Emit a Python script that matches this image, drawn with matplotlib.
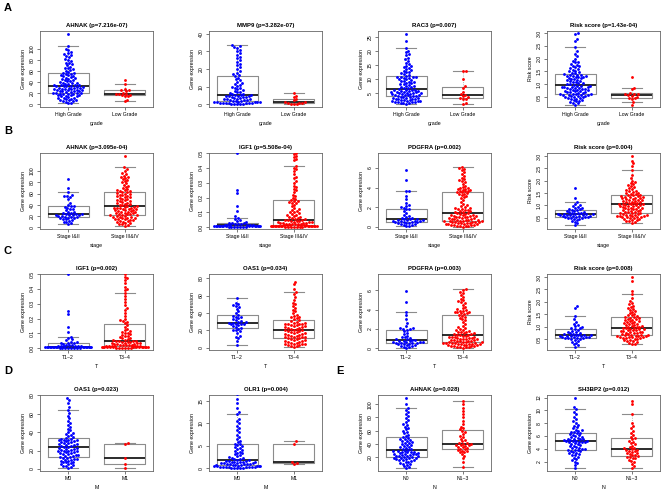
import numpy as np
import matplotlib
matplotlib.use('Agg')
import matplotlib.pyplot as plt

plt.rcParams['font.family'] = ['Liberation Sans', 'DejaVu Sans']

W, H = 669, 490

### values (one list per group)
# A: grade
ahnak_high_grade = [2,3,4,5,6,7,8,8,9,10,11,12,12,13,14,15,15,16,16,17,18,18,19,19,20,20,21,21,22,22,
                    23,23,24,24,25,25,26,26,27,27,28,28,29,29,30,30,31,31,32,32,33,33,34,34,35,35,36,37,
                    38,38,39,40,41,42,43,44,45,46,47,48,49,50,51,52,53,54,55,56,57,58,60,62,63,65,66,68,
                    70,72,74,75,78,80,82,85,87,88,90,92,95,98,100,105,127]
ahnak_low_grade = [5,8,14,15,16,17,18,18,19,21,24,25,26,28,37,43]
mmp9_high_grade = [0.1,0.2,0.3,0.3,0.4,0.5,0.5,0.6,0.7,0.8,0.9,1.0,1.1,1.2,1.3,1.4,1.5,1.6,1.8,1.9,
                   2.0,2.2,2.4,2.6,2.8,3.0,3.1,3.3,3.5,3.7,3.9,4.1,4.3,4.5,4.7,4.9,5.0,5.2,5.3,5.4,
                   5.7,6.0,6.4,6.8,7.2,7.6,8.0,8.5,9.0,9.5,10.0,10.5,11.0,11.5,12.0,12.8,13.5,14.2,15.0,15.8,
                   16.5,17,18,19,20,21,22,23,24,25,26,27,28,29,30,31,32,32.5,33,33.5]
mmp9_low_grade = [0.1,0.2,0.3,0.5,0.7,1.0,1.2,1.5,2.2,3.2,4.0,5.0,6.3]
rac3_high_grade = [1.2,1.4,1.5,1.6,1.7,1.8,1.9,2.0,2.1,2.2,2.3,2.4,2.5,2.6,2.7,2.8,2.9,3.0,3.1,3.2,3.3,3.4,3.5,3.6,3.7,
                   3.9,4.0,4.1,4.2,4.3,4.4,4.5,4.6,4.7,4.8,4.9,5.0,5.1,5.2,5.3,5.4,5.5,5.6,5.7,5.8,5.9,6.0,6.1,6.2,6.3,
                   6.5,6.7,6.9,7.1,7.3,7.5,7.7,7.9,8.1,8.3,8.5,8.7,8.9,9.1,9.3,9.5,9.7,9.9,10.1,10.3,10.5,10.6,10.7,10.8,10.9,
                   11.2,11.5,11.8,12.1,12.4,12.7,13.0,13.3,13.6,13.9,14.2,14.5,14.8,15.2,15.8,16.5,17.0,17.5,18.5,19.0,
                   19.5,20.0,21.0,23.5,26.0]
rac3_low_grade = [1.2,1.5,2.8,3.0,3.3,3.6,4.0,4.5,4.8,5.5,7.0,7.5,10.0,12.8,13.0]
risk_high_grade = [0.20,0.25,0.28,0.30,0.33,0.35,0.37,0.40,0.42,0.44,0.46,0.48,0.50,0.51,0.52,0.53,0.54,0.55,0.56,0.57,
                   0.58,0.59,0.60,0.61,0.62,0.63,0.65,0.66,0.68,0.69,0.70,0.72,0.73,0.75,0.76,0.78,0.79,0.80,0.82,0.83,
                   0.85,0.86,0.87,0.88,0.89,0.90,0.91,0.92,0.93,0.95,0.97,0.99,1.01,1.03,1.05,1.07,1.09,1.11,1.13,1.15,
                   1.17,1.19,1.21,1.23,1.25,1.27,1.29,1.30,1.32,1.33,1.34,1.35,1.36,1.38,1.40,1.42,1.45,1.48,1.50,1.53,
                   1.56,1.60,1.63,1.66,1.70,1.73,1.76,1.80,1.85,1.88,1.92,2.00,2.10,2.20,2.30,2.45,2.70,2.78,2.95,3.00]
risk_low_grade = [0.20,0.30,0.42,0.45,0.48,0.52,0.55,0.58,0.60,0.61,0.63,0.65,0.80,0.85,1.30]

# B: stage
ahnak_stage12 = [5,7,9,10,12,13,14,15,16,16,17,18,18,19,20,20,21,21,22,22,23,23,24,25,26,27,28,30,32,33,
                 34,36,37,38,40,44,50,54,55,56,58,62,70,85]
ahnak_stage34 = [3,4,5,6,7,8,9,10,11,12,13,13,14,15,15,16,17,17,18,19,19,20,20,21,21,
                 22,23,23,24,25,25,26,27,27,28,29,29,30,31,31,32,32,33,34,34,35,35,36,36,37,
                 38,39,40,41,42,43,44,45,46,47,48,49,50,51,52,53,54,55,56,57,58,59,60,61,62,
                 63,64,65,66,67,68,70,72,74,76,78,80,82,84,86,88,89,90,92,94,96,100,104,107,127]
igf1_stage12 = [0.001,0.002,0.002,0.003,0.003,0.004,0.004,0.005,0.005,0.005,0.006,0.006,0.007,0.007,0.008,
                0.008,0.009,0.009,0.010,0.010,0.011,0.011,0.012,0.013,0.014,0.015,0.016,0.018,0.020,0.022,
                0.024,0.026,0.028,0.030,0.035,0.040,0.048,0.055,0.065,0.075,0.11,0.14,0.23,0.25,0.50]
igf1_stage34 = [0.001,0.002,0.002,0.003,0.003,0.004,0.004,0.005,0.005,0.006,0.006,0.007,0.007,0.008,0.008,
                0.008,0.009,0.009,0.010,0.010,0.010,0.011,0.011,0.011,0.012,
                0.013,0.014,0.015,0.016,0.017,0.018,0.019,0.020,0.021,0.022,0.024,0.025,0.027,0.028,0.030,
                0.031,0.033,0.035,0.036,0.038,0.040,0.042,0.044,0.046,0.048,
                0.050,0.053,0.056,0.060,0.064,0.068,0.072,0.076,0.080,0.085,0.090,0.095,0.100,0.105,0.110,
                0.115,0.120,0.130,0.140,0.150,0.160,0.165,0.170,0.175,0.180,
                0.185,0.190,0.200,0.210,0.220,0.240,0.250,0.260,0.270,0.280,0.300,0.310,0.330,0.340,0.360,
                0.380,0.390,0.400,0.410,0.450,0.460,0.470,0.480,0.490,0.500]
pdgfra_stage12 = [0.10,0.15,0.20,0.25,0.30,0.35,0.40,0.42,0.45,0.48,0.50,0.52,0.55,0.58,0.60,0.62,0.65,0.68,
                  0.70,0.75,0.78,0.80,0.85,0.90,0.95,1.00,1.10,1.20,1.40,1.60,1.80,1.85,1.90,2.00,2.10,2.20,
                  2.40,2.80,3.10,3.60,3.70,4.80,5.80]
pdgfra_stage34 = [0.05,0.08,0.10,0.12,0.15,0.18,0.20,0.22,0.25,0.28,0.30,0.32,0.35,0.37,0.40,0.42,0.44,0.46,
                  0.48,0.50,0.52,0.54,0.56,0.58,0.60,
                  0.62,0.65,0.68,0.70,0.73,0.76,0.79,0.82,0.85,0.88,0.91,0.94,0.97,1.00,1.03,1.06,1.09,1.12,
                  1.15,1.18,1.22,1.26,1.30,1.35,1.40,
                  1.45,1.50,1.55,1.60,1.65,1.70,1.75,1.80,1.85,1.90,1.95,2.00,2.10,2.20,2.30,2.50,2.70,2.90,
                  3.00,3.10,3.20,3.30,3.35,3.40,3.50,
                  3.55,3.60,3.65,3.70,3.75,3.80,3.85,3.90,3.95,4.00,4.10,4.20,4.40,4.60,4.70,4.80,4.90,5.00,
                  5.20,5.40,5.60,5.80,5.90,6.00,6.10]
risk_stage12 = [0.20,0.28,0.33,0.38,0.42,0.45,0.47,0.49,0.50,0.51,0.52,0.53,0.54,0.55,0.56,0.57,0.58,0.59,
                0.60,0.61,0.62,0.63,0.64,0.65,0.65,0.66,0.67,0.68,0.69,0.70,0.72,0.74,0.76,0.78,0.80,0.82,
                0.84,0.86,0.88,0.90,0.93,0.96,1.00,1.05,1.15,1.30,1.70]
risk_stage34 = [0.30,0.33,0.36,0.38,0.40,0.42,0.44,0.46,0.48,0.50,0.52,0.53,0.54,0.55,0.56,0.57,0.58,0.59,
                0.60,0.61,0.62,0.63,0.64,0.66,0.68,
                0.69,0.70,0.72,0.73,0.75,0.76,0.78,0.80,0.82,0.84,0.85,0.87,0.88,0.90,0.91,0.93,0.94,0.96,
                0.97,0.99,1.00,1.01,1.02,1.04,1.05,
                1.06,1.08,1.09,1.10,1.12,1.13,1.15,1.16,1.18,1.20,1.21,1.23,1.24,1.26,1.27,1.29,1.30,1.32,
                1.33,1.35,1.36,1.38,1.39,1.41,1.42,
                1.44,1.46,1.48,1.50,1.52,1.55,1.58,1.60,1.63,1.66,1.70,1.74,1.78,1.82,1.86,1.90,1.95,2.00,
                2.10,2.25,2.45,2.60,2.70,2.80,3.00]

# C: T
igf1_t12 = [0.001,0.002,0.002,0.003,0.003,0.004,0.004,0.004,0.005,0.005,0.005,0.006,0.006,0.007,0.007,0.008,
            0.008,0.009,0.009,0.010,0.010,0.010,0.011,0.011,0.012,0.013,0.014,0.015,0.016,0.018,0.020,0.022,
            0.025,0.028,0.032,0.035,0.038,0.040,0.045,0.055,0.060,0.070,0.078,0.110,0.140,0.230,0.250,0.500]
igf1_t34 = [0.001,0.002,0.003,0.003,0.004,0.004,0.005,0.005,0.006,0.006,0.007,0.007,0.008,0.008,0.009,0.009,
            0.010,0.010,0.011,0.011,0.012,0.012,0.013,0.014,0.015,
            0.016,0.017,0.018,0.019,0.020,0.022,0.023,0.025,0.026,0.028,0.030,0.032,0.034,0.036,0.038,0.040,
            0.042,0.044,0.046,0.048,0.050,0.052,
            0.055,0.058,0.062,0.066,0.070,0.075,0.080,0.085,0.090,0.095,0.100,0.105,0.110,0.115,0.120,0.130,
            0.140,0.155,0.170,0.180,0.185,
            0.190,0.200,0.220,0.240,0.260,0.270,0.290,0.310,0.330,0.350,0.370,0.390,0.400,0.410,0.440,0.460,
            0.470,0.480,0.500]
oas1_t12 = [3,8,11,12,14,17,19,20,21,22,23,24,25,26,27,27,28,28,29,29,30,30,31,32,33,34,35,36,37,38,
            40,42,45,47,48,49,50,52,57]
oas1_t34 = [1,2,2,3,3,4,4,5,5,6,6,7,7,8,8,9,9,10,10,
            11,11,12,12,13,13,14,14,15,15,16,16,17,17,18,18,19,19,20,20,21,
            22,22,23,23,24,24,25,25,26,26,27,27,28,28,29,29,30,31,32,33,
            34,35,36,37,38,40,42,44,46,48,50,52,55,58,62,64,67,73,76]
pdgfra_t12 = [0.05,0.10,0.15,0.20,0.25,0.30,0.35,0.40,0.42,0.45,0.48,0.50,0.52,0.55,0.58,0.60,0.63,0.66,
              0.70,0.74,0.78,0.82,0.86,0.90,0.95,1.00,1.10,1.20,1.30,1.45,1.60,1.75,1.90,1.95,2.00,2.05,
              2.10,2.30,2.60,3.00,3.40,3.80,4.80,5.90]
pdgfra_t34 = [0.05,0.07,0.10,0.12,0.14,0.17,0.20,0.23,0.26,0.29,0.31,0.34,0.36,0.39,0.41,0.43,0.45,0.47,
              0.49,0.51,0.53,0.55,0.57,0.59,0.61,
              0.63,0.66,0.69,0.72,0.75,0.78,0.81,0.84,0.87,0.90,0.93,0.96,0.99,1.02,1.05,1.08,1.11,1.14,
              1.17,1.20,1.24,1.28,1.32,1.36,1.40,
              1.44,1.48,1.52,1.57,1.62,1.67,1.72,1.78,1.84,1.90,1.96,2.05,2.15,2.30,2.50,2.70,2.90,3.05,
              3.15,3.25,3.35,3.45,3.55,3.60,3.65,
              3.70,3.75,3.80,3.85,3.90,3.95,4.05,4.15,4.30,4.50,4.65,4.75,4.85,4.95,5.10,5.30,5.50,5.70,
              5.85,6.00,6.10]
risk_t12 = [0.20,0.25,0.30,0.35,0.40,0.44,0.47,0.50,0.52,0.53,0.54,0.55,0.56,0.57,0.58,0.59,0.60,0.61,
            0.62,0.63,0.64,0.65,0.66,0.67,0.68,0.70,0.72,0.74,0.76,0.78,0.80,0.83,0.86,0.90,0.93,0.95,
            0.98,1.02,1.08,1.12,1.20,1.30,1.42,1.75,1.85]
risk_t34 = [0.30,0.32,0.35,0.38,0.41,0.44,0.46,0.48,0.50,0.52,0.54,0.55,0.56,0.57,0.58,0.59,0.60,0.61,
            0.62,0.63,0.64,0.65,0.66,0.67,0.68,
            0.70,0.71,0.73,0.74,0.76,0.77,0.79,0.80,0.82,0.83,0.85,0.86,0.87,0.89,0.90,0.92,0.93,0.95,
            0.96,0.98,0.99,1.00,
            1.02,1.04,1.06,1.08,1.10,1.12,1.14,1.16,1.18,1.20,1.22,1.24,1.26,1.28,1.30,1.32,1.34,1.36,
            1.38,1.40,1.42,
            1.45,1.48,1.52,1.56,1.60,1.64,1.68,1.72,1.76,1.80,1.85,1.90,1.95,2.05,2.15,2.30,2.45,2.85,3.00]

# D: M
oas1_m0 = [1,2,3,3,4,5,5,6,7,7,8,9,9,10,10,11,11,12,12,13,
           13,14,14,15,15,16,16,17,17,18,18,19,19,20,20,21,21,22,22,23,23,24,24,
           25,25,26,26,27,27,28,28,29,29,30,30,31,31,32,32,33,33,34,35,36,
           37,38,39,40,42,44,46,48,50,52,55,58,61,64,67,72,75,77]
oas1_m1 = [1,5,12,27,28]
olr1_m0 = [0.0,0.05,0.1,0.1,0.15,0.2,0.2,0.25,0.3,0.3,0.35,0.4,0.4,0.45,0.5,0.5,0.55,0.6,0.6,0.65,
           0.7,0.75,0.8,0.85,0.9,0.95,1.0,1.05,1.1,1.15,1.2,1.25,1.3,1.35,1.4,1.45,1.5,1.55,1.6,1.7,
           1.8,1.9,2.0,2.1,2.2,2.3,2.5,2.7,2.9,3.1,3.3,3.5,3.7,3.9,4.1,4.3,4.5,4.7,4.9,5.1,5.3,5.5,
           5.8,6.1,6.5,7.0,7.5,8.0,8.5,9.0,9.5,10.0,10.5,11.0,12.0,12.5,13.5,14.5,15.5,16.5,17.0]
olr1_m1 = [1.0,1.2,1.5,5.5,6.0]

# E: N
ahnak_n0 = [3,5,6,8,9,10,11,12,13,14,15,15,16,17,17,18,18,19,19,20,
            20,21,21,22,22,23,23,24,24,25,25,26,26,27,27,28,28,29,29,30,
            31,32,33,34,35,36,37,38,39,40,41,42,43,44,45,46,47,48,49,50,
            52,54,56,58,60,62,64,66,68,70,73,76,79,82,85,88,92,95,100,110]
ahnak_n13 = [5,12,18,22,25,27,28,29,30,31,32,33,34,35,36,37,38,38,39,40,40,41,42,44,46,48,50,52,
             55,58,60,62,64,66,70,75,80,85,90,95,100,105]
sh3bp2_n0 = [1.0,1.5,1.8,2.0,2.2,2.4,2.6,2.8,3.0,3.1,3.2,3.3,3.4,3.5,3.6,3.7,3.8,3.85,3.9,3.95,
             4.0,4.1,4.2,4.3,4.4,4.5,4.6,4.7,4.8,4.9,5.0,5.0,5.1,5.1,5.2,5.2,5.3,5.3,5.4,5.4,
             5.5,5.5,5.6,5.6,5.7,5.8,5.9,6.0,6.1,6.2,6.3,6.4,6.5,6.6,6.7,6.8,6.9,7.0,7.2,7.4,
             7.6,7.8,8.0,8.3,8.6,9.0,9.4,9.8,10.2,10.6,12.0]
sh3bp2_n13 = [1.0,1.3,1.6,1.9,2.1,2.3,2.5,2.6,2.7,2.8,2.9,3.0,3.1,3.2,3.3,3.4,3.5,3.6,3.7,3.8,3.9,4.0,
              4.1,4.2,4.3,4.5,4.7,4.9,5.1,5.3,5.5,5.7,5.9,6.1,6.4,6.8,7.2,7.5,8.0,9.5,11.0,11.5]

grade_labels = ['High Grade', 'Low Grade']
stage_labels = ['Stage I&II', 'Stage III&IV']
t_labels = ['T1~2', 'T3~4']
m_labels = ['M0', 'M1']
n_labels = ['N0', 'N1~3']

GE = 'Gene expression'
RS = 'Risk score'
# row, col, title, ylabel, xlabel, group labels, groups, ylim, yticks, tick format
panels = [
    (0, 0, 'AHNAK (p=7.216e-07)', GE, 'grade', grade_labels, [ahnak_high_grade, ahnak_low_grade], (-5, 132), [0, 20, 40, 60, 80, 100], '%d'),
    (0, 1, 'MMP9 (p=3.282e-07)', GE, 'grade', grade_labels, [mmp9_high_grade, mmp9_low_grade], (-1.5, 41.5), [0, 10, 20, 30, 40], '%d'),
    (0, 2, 'RAC3 (p=0.007)', GE, 'grade', grade_labels, [rac3_high_grade, rac3_low_grade], (0.1, 27.1), [5, 10, 15, 20, 25], '%d'),
    (0, 3, 'Risk score (p=1.43e-04)', RS, 'grade', grade_labels, [risk_high_grade, risk_low_grade], (0.11, 3.08), [0.5, 1.0, 1.5, 2.0, 2.5, 3.0], '%.1f'),
    (1, 0, 'AHNAK (p=3.095e-04)', GE, 'stage', stage_labels, [ahnak_stage12, ahnak_stage34], (-3, 132), [0, 20, 40, 60, 80, 100], '%d'),
    (1, 1, 'IGF1 (p=5.508e-04)', GE, 'stage', stage_labels, [igf1_stage12, igf1_stage34], (-0.012, 0.5), [0.0, 0.1, 0.2, 0.3, 0.4, 0.5], '%.1f'),
    (1, 2, 'PDGFRA (p=0.002)', GE, 'stage', stage_labels, [pdgfra_stage12, pdgfra_stage34], (-0.2, 7.5), [0, 2, 4, 6], '%d'),
    (1, 3, 'Risk score (p=0.004)', RS, 'stage', stage_labels, [risk_stage12, risk_stage34], (0.05, 3.12), [0.5, 1.0, 1.5, 2.0, 2.5, 3.0], '%.1f'),
    (2, 0, 'IGF1 (p=0.002)', GE, 'T', t_labels, [igf1_t12, igf1_t34], (-0.012, 0.5), [0.0, 0.1, 0.2, 0.3, 0.4, 0.5], '%.1f'),
    (2, 1, 'OAS1 (p=0.034)', GE, 'T', t_labels, [oas1_t12, oas1_t34], (-2.3, 84.6), [0, 20, 40, 60, 80], '%d'),
    (2, 2, 'PDGFRA (p=0.003)', GE, 'T', t_labels, [pdgfra_t12, pdgfra_t34], (-0.2, 7.7), [0, 2, 4, 6], '%d'),
    (2, 3, 'Risk score (p=0.008)', RS, 'T', t_labels, [risk_t12, risk_t34], (0.06, 3.12), [0.5, 1.0, 1.5, 2.0, 2.5, 3.0], '%.1f'),
    (3, 0, 'OAS1 (p=0.023)', GE, 'M', m_labels, [oas1_m0, oas1_m1], (-2.3, 80.5), [0, 20, 40, 60, 80], '%d'),
    (3, 1, 'OLR1 (p=0.004)', GE, 'M', m_labels, [olr1_m0, olr1_m1], (-0.6, 16.3), [0, 5, 10, 15], '%d'),
    (3, 2, 'AHNAK (p=0.028)', GE, 'N', n_labels, [ahnak_n0, ahnak_n13], (-1, 114), [20, 40, 60, 80, 100], '%d'),
    (3, 3, 'SH3BP2 (p=0.012)', GE, 'N', n_labels, [sh3bp2_n0, sh3bp2_n13], (0.55, 12.4), [2, 4, 6, 8, 10, 12], '%d'),
]

row_top = [31, 153, 274, 395]
col_left = [40, 209, 378, 547]
AW, AH = 113, 76
colors = ['#0000FF', '#FF0000']
letters = [('A', 8, 8), ('B', 8, 131), ('C', 8, 251), ('D', 8, 371), ('E', 340, 371)]


def swarm(ypx, d, wmax):
    # beeswarm "swarm" layout in pixels, lowest value first, wrapped at +-wmax
    order = np.argsort(ypx, kind='stable')
    xs = np.zeros(len(ypx))
    px, py = [], []
    for i in order:
        y = ypx[i]
        near = [(a, b) for a, b in zip(px, py) if abs(b - y) < d]
        cand = [0.0]
        for a, b in near:
            dx = np.sqrt(d * d - (b - y) ** 2)
            cand += [a + dx, a - dx]
        cand.sort(key=abs)
        for c in cand:
            if all((c - a) ** 2 + (b - y) ** 2 >= d * d - 1e-6 for a, b in near):
                xs[i] = c
                break
        px.append(xs[i])
        py.append(y)
    xs = np.asarray(xs)
    big = np.abs(xs) > wmax
    xs[big] = np.mod(xs[big] + wmax, 2 * wmax) - wmax
    return xs


fig = plt.figure(figsize=(W / 100, H / 100), dpi=100)

for row, col, title, ylab, xlab, glabels, groups, ylim, yticks, fmt in panels:
    left = col_left[col]
    top = row_top[row]
    ax = fig.add_axes([left / W, 1 - (top + AH) / H, AW / W, AH / H])
    ax.set_xlim(0.5, 2.5)
    ax.set_ylim(*ylim)

    ax.boxplot(groups, positions=[1, 2], widths=0.72, showfliers=False,
               boxprops=dict(color='#8c8c8c', lw=0.8),
               medianprops=dict(color='#1a1a1a', lw=1.3),
               whiskerprops=dict(color='#9a9a9a', lw=0.6, ls=':'),
               capprops=dict(color='#8c8c8c', lw=0.8), capwidths=0.36, zorder=1)

    ppu_y = AH / (ylim[1] - ylim[0])
    ppu_x = AW / 2.0
    for k, vals in enumerate(groups):
        v = np.asarray(vals, dtype=float)
        xo = swarm(v * ppu_y, 2.9, 0.42 * ppu_x)
        ax.scatter(k + 1 + xo / ppu_x, v, s=4.2, color=colors[k], linewidths=0, zorder=3)

    ax.set_xticks([1, 2])
    ax.set_xticklabels(glabels)
    ax.set_yticks(yticks)
    ax.set_yticklabels([fmt % t for t in yticks])
    ax.tick_params(length=2, width=0.5, color='#444444', labelsize=3.7, pad=1.5)
    for lab in ax.get_yticklabels():
        lab.set_rotation(90)
        lab.set_va('center')
    for s in ax.spines.values():
        s.set_color('#666666')
        s.set_linewidth(0.6)
    ax.set_title(title, fontsize=4.3, fontweight='bold', pad=3)
    ax.set_ylabel(ylab, fontsize=3.8, labelpad=3)
    ax.set_xlabel(xlab, fontsize=3.8, labelpad=3)

for txt, x, y in letters:
    fig.text(x / W, 1 - y / H, txt, fontsize=8, fontweight='bold', ha='center', va='center')

fig.savefig('out.png', dpi=100)
